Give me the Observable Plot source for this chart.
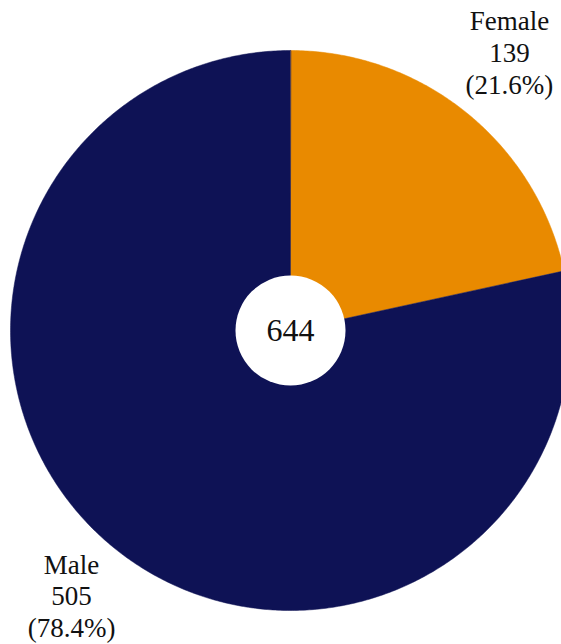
<!DOCTYPE html>
<html>
<head>
<meta charset="utf-8">
<script src="https://cdn.jsdelivr.net/npm/d3@7"></script>
<script src="https://cdn.jsdelivr.net/npm/@observablehq/plot@0.6"></script>
<style>
  html, body { margin: 0; padding: 0; background: #fff; }
  #chart svg { display: block; }
  #chart svg text { font-family: "Liberation Serif", "Times New Roman", Times, serif; }
</style>
</head>
<body>
<div id="chart"></div>
<script>
const categories = ["Female", "Male"];
const counts = [139, 505];
const percents = ["21.6%", "78.4%"];
const colors = ["#E98A00", "#0E1255"];
const total = 644;

const W = 561, H = 644;
const cx = 290, cy = 330, R = 280, hole = 55, labelR = 349, labelShift = -7;
const serif = "Liberation Serif, Times New Roman, serif";

const pie = d3.pie().sort(null).value(d => d.count);
const rows = categories.map((c, i) => ({cat: c, count: counts[i], pct: percents[i]}));
const arcs = pie(rows);

// polygon points for each slice, computed from the pie angles
const pts = [];
arcs.forEach(a => {
  pts.push({cat: a.data.cat, x: cx, y: cy});
  const n = Math.max(2, Math.ceil((a.endAngle - a.startAngle) / (Math.PI / 360)));
  for (let k = 0; k <= n; k++) {
    const t = a.startAngle + (a.endAngle - a.startAngle) * k / n;
    pts.push({cat: a.data.cat, x: cx + R * Math.sin(t), y: cy - R * Math.cos(t)});
  }
});

const labels = arcs.map(a => {
  const m = (a.startAngle + a.endAngle) / 2;
  return {
    x: cx + labelR * Math.sin(m),
    y: cy + labelShift - labelR * Math.cos(m),
    text: `${a.data.cat}\n${a.data.count}\n(${a.data.pct})`
  };
});

const chart = Plot.plot({
  width: W,
  height: H,
  margin: 0,
  x: {domain: [0, W], range: [0, W], axis: null},
  y: {domain: [0, H], range: [0, H], axis: null},
  color: {domain: categories, range: colors},
  style: {background: "white", fontFamily: serif},
  marks: [
    Plot.line(pts, {x: "x", y: "y", z: "cat", fill: "cat", stroke: "cat", strokeWidth: 0.5, curve: "linear-closed"}),
    Plot.dot([{x: cx, y: cy}], {x: "x", y: "y", r: hole, fill: "white", stroke: "none"}),
    Plot.text([{x: cx, y: cy, t: String(total)}], {x: "x", y: "y", text: "t", fontSize: 32, fill: "#111", fontFamily: serif}),
    Plot.text(labels, {x: "x", y: "y", text: "text", fontSize: 27, lineHeight: 1.18, lineAnchor: "middle", textAnchor: "middle", fill: "#111", fontFamily: serif})
  ]
});
document.getElementById("chart").appendChild(chart);
</script>
</body>
</html>
